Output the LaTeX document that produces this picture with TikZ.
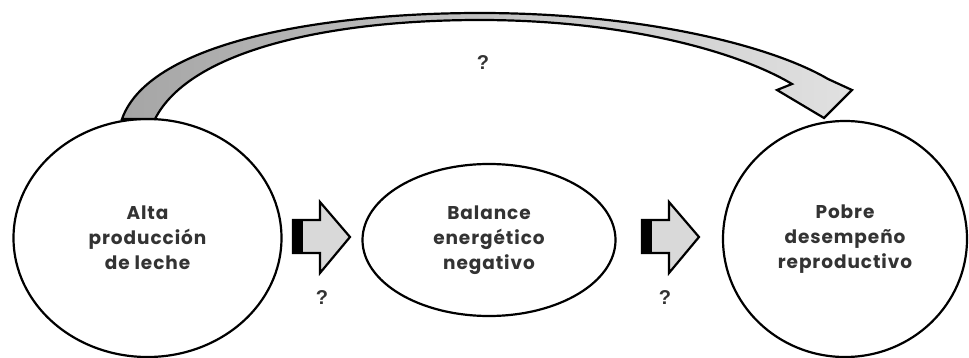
\documentclass[tikz,border=0pt]{standalone}
\usepackage{fontspec}
\setmainfont{Poppins}[LetterSpace=5]
\newfontfamily\qfont{Liberation Sans}
\usetikzlibrary{shapes.geometric}
\definecolor{txt}{HTML}{333333}
\definecolor{lgray}{HTML}{D9D9D9}
\tikzset{
  bubble/.style={ellipse, draw=black, line width=2.2pt, inner sep=0pt, fill=white,
    text=txt, font=\bfseries\fontsize{18.5}{25}\selectfont, align=center},
  qmark/.style={text=txt, font=\qfont\bfseries\fontsize{20}{20}\selectfont},
  outl/.style={draw=black, line width=2.2pt, line join=miter},
}
\newcommand{\myblockarrow}[1]{%
  \begin{scope}[shift={(#1)}]
    \fill[lgray] (10,-17) -- (27,-17) -- (27,-35) -- (57,0) -- (27,36) -- (27,16) -- (10,16) -- cycle;
    \fill[black] (0,-17) rectangle (10,16);
    \draw[outl] (0,-17) -- (27,-17) -- (27,-35) -- (57,0) -- (27,36) -- (27,16) -- (0,16) -- cycle;
  \end{scope}}
\begin{document}
\begin{tikzpicture}[x=1pt,y=-1pt]
\useasboundingbox (0,0) rectangle (969,358);
\node[bubble, minimum width=268pt, minimum height=238pt] (alta) at (147.5,238) {Alta\\producción\\de leche};
\node[bubble, minimum width=253pt, minimum height=152pt] (bal) at (489,240) {Balance\\energético\\negativo};
\node[bubble, minimum width=244pt, minimum height=236pt] (pobre) at (845,239) {Pobre\\desempeño\\reproductivo};
\coordinate (a1) at (293,237);
\coordinate (a2) at (642,237);
\myblockarrow{a1}
\myblockarrow{a2}
\node[qmark] (q1) at (322,298) {?};
\node[qmark] (q2) at (665,298) {?};
\node[qmark] (q3) at (483,63) {?};
% curved arrow
\coordinate (cs1) at (122,119);
\coordinate (cs2) at (155,119);
\path[left color=gray!70, right color=lgray!80!white, draw=black, line width=2.2pt, line join=miter]
  (cs1) .. controls (150,40) and (330,13) .. (480,13)
  .. controls (640,13) and (770,45) .. (828,79)
  -- (852,90) -- (824,118) -- (777,90) -- (792,84)
  .. controls (735,50) and (620,20) .. (480,20)
  .. controls (330,20) and (190,50) .. (cs2) -- cycle;
\end{tikzpicture}
\end{document}
